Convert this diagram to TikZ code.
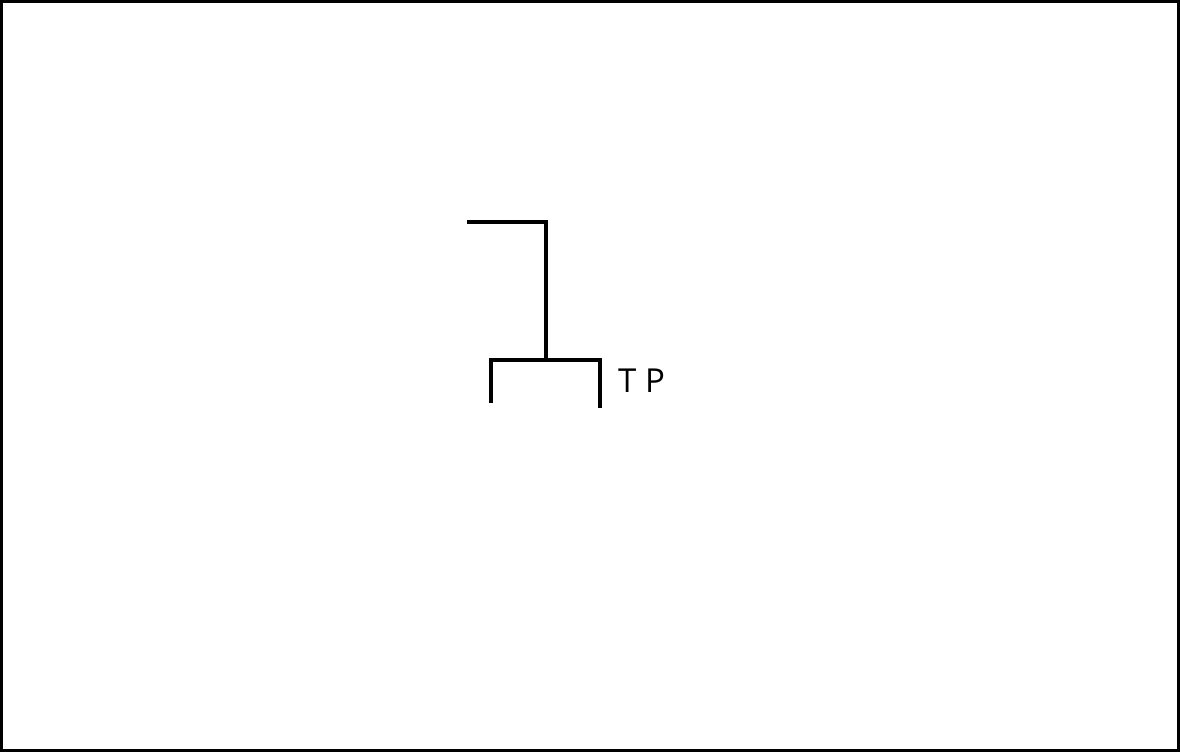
\documentclass[tikz,border=0pt]{standalone}
\usepackage{fontspec}
\setmainfont{Open Sans}
\begin{document}
\begin{tikzpicture}[x=1pt,y=-1pt,
  wire/.style={line width=4.5pt},
  frame/.style={line width=3pt}]
\useasboundingbox (0,0) rectangle (1180,752);
\draw[frame] (1.5,1.5) rectangle (1178.5,750.5);
\coordinate (a) at (467,222);
\coordinate (b) at (546,222);
\coordinate (c) at (546,360);
\coordinate (l) at (491,360);
\coordinate (r) at (600,360);
\coordinate (lb) at (491,403);
\coordinate (rb) at (600,408);
\draw[wire] (a) -- (b) -- (c);
\draw[wire] (lb) -- (l) -- (r) -- (rb);
\node[anchor=west,inner sep=0pt,font=\fontsize{33}{37}\selectfont] (tp) at (618,381) {T P};
\end{tikzpicture}
\end{document}
